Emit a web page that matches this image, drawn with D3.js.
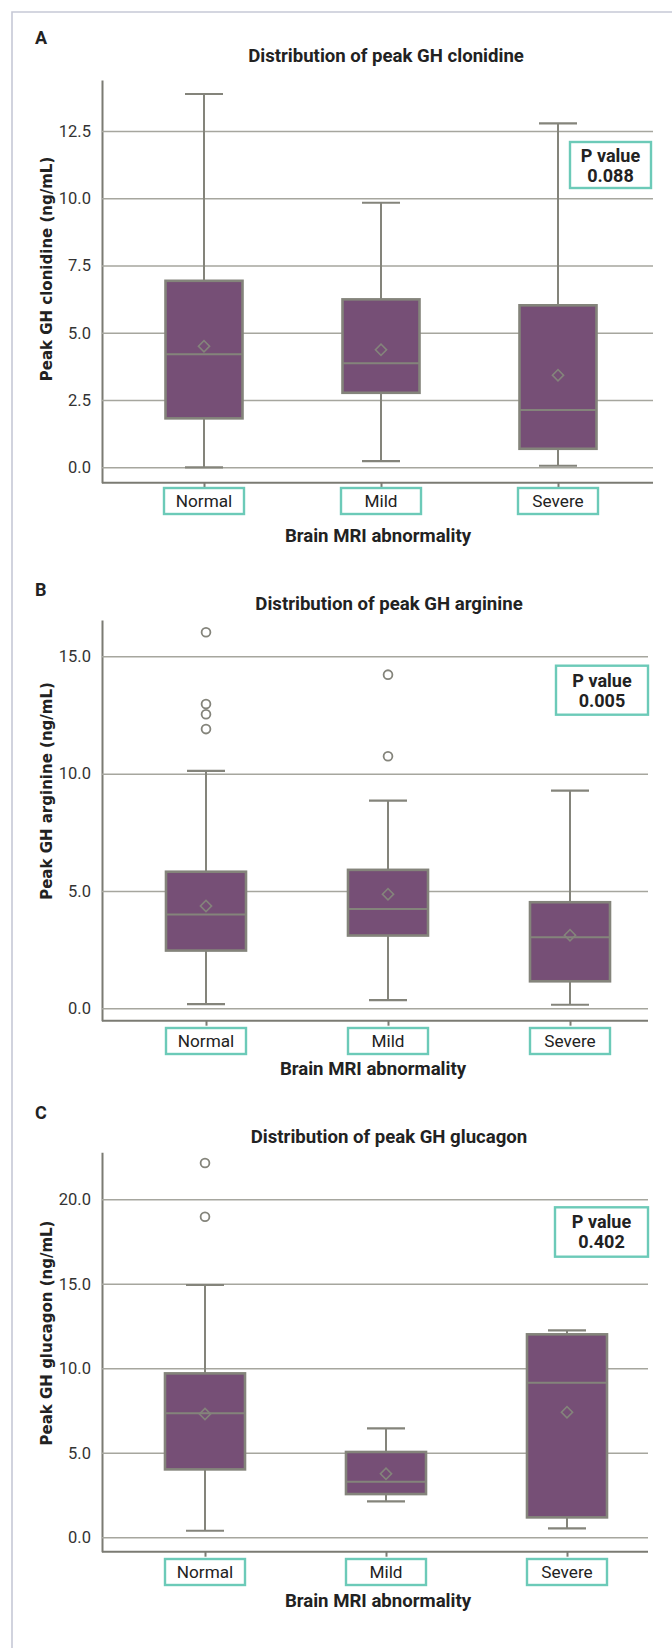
<!DOCTYPE html>
<html>
<head>
<meta charset="UTF-8">
<title>Peak GH by brain MRI abnormality</title>
<style>
  body { margin: 0; background: #fff; }
  svg { display: block; }
  .tick text { font-family: Roboto, sans-serif; font-size: 16.5px; fill: #333; }
  .panel-letter { font-family: Roboto, sans-serif; font-weight: 700; font-size: 18px; fill: #222; }
  .panel-title { font-family: Roboto, sans-serif; font-weight: 700; font-size: 18.6px; fill: #222; }
  .x-title { font-family: Roboto, sans-serif; font-weight: 700; font-size: 18.6px; fill: #222; }
  .y-title { font-family: "DejaVu Sans", sans-serif; font-weight: 700; font-size: 15px; fill: #222; }
  .cat-label { font-family: Roboto, sans-serif; font-size: 17.2px; fill: #222; }
  .p-text { font-family: Roboto, sans-serif; font-weight: 700; font-size: 18px; fill: #222; }
</style>
</head>
<body>
<svg id="chart"></svg>
<script src="https://d3js.org/d3.v7.min.js"></script>
<script>

// ---- data ----
const categories = ["Normal", "Mild", "Severe"];
const panelLetters = ["A", "B", "C"];
const panelTitles = [
  "Distribution of peak GH clonidine",
  "Distribution of peak GH arginine",
  "Distribution of peak GH glucagon"
];
const yTitles = [
  "Peak GH clonidine (ng/mL)",
  "Peak GH arginine (ng/mL)",
  "Peak GH glucagon (ng/mL)"
];
const xTitle = "Brain MRI abnormality";
const pValues = ["0.088", "0.005", "0.402"];
const yTicks = [
  [0, 2.5, 5, 7.5, 10, 12.5],
  [0, 5, 10, 15],
  [0, 5, 10, 15, 20]
];
const yLimits = [[-0.57, 14.39], [-0.53, 16.55], [-0.85, 22.78]];

// low whisker, q1, median, q3, high whisker, mean, outliers (Normal, Mild, Severe)
const clonidineStats = [
  { low: 0.0,  q1: 1.82, median: 4.2,  q3: 6.93, high: 13.87, mean: 4.5,  outliers: [] },
  { low: 0.23, q1: 2.77, median: 3.87, q3: 6.24, high: 9.83,  mean: 4.37, outliers: [] },
  { low: 0.06, q1: 0.69, median: 2.13, q3: 6.02, high: 12.78, mean: 3.42, outliers: [] }
];
const arginineStats = [
  { low: 0.18, q1: 2.46, median: 4.0,  q3: 5.82, high: 10.12, mean: 4.36, outliers: [11.9, 12.53, 12.97, 16.03] },
  { low: 0.35, q1: 3.1,  median: 4.23, q3: 5.9,  high: 8.85,  mean: 4.86, outliers: [10.74, 14.22] },
  { low: 0.15, q1: 1.15, median: 3.03, q3: 4.52, high: 9.28,  mean: 3.11, outliers: [] }
];
const glucagonStats = [
  { low: 0.39, q1: 4.02, median: 7.34, q3: 9.7,   high: 14.93, mean: 7.3,  outliers: [18.97, 22.15] },
  { low: 2.13, q1: 2.56, median: 3.29, q3: 5.05,  high: 6.45,  mean: 3.76, outliers: [] },
  { low: 0.53, q1: 1.18, median: 9.15, q3: 12.01, high: 12.25, mean: 7.4,  outliers: [] }
];
const panelStats = [clonidineStats, arginineStats, glucagonStats];

// ---- layout ----
const width = 672, height = 1648;
const axisX = 102;
const layout = [
  { top: 80,     bottom: 482.7,  letterY: 44,    titleY: 62,     titleX: 386, centers: [204, 558], boxW: 77, gridEnd: 653,
    pBox: [570, 142, 81, 46],   pY: [161.7, 182],     labelBoxY: 488,  xTitleY: 541.7, xTitleX: 378, yTitleY: 269 },
  { top: 620,    bottom: 1020.7, letterY: 595.7, titleY: 610,    titleX: 389, centers: [206, 570], boxW: 80, gridEnd: 648,
    pBox: [556, 665.7, 92, 49], pY: [686.7, 706.7],   labelBoxY: 1028, xTitleY: 1075,  xTitleX: 373, yTitleY: 791 },
  { top: 1152.3, bottom: 1551.7, letterY: 1119,  titleY: 1142.7, titleX: 389, centers: [205, 567], boxW: 80, gridEnd: 648,
    pBox: [555, 1207.3, 93, 49.4], pY: [1228.3, 1248.3], labelBoxY: 1559, xTitleY: 1606.7, xTitleX: 378, yTitleY: 1333 }
];

const purple = "#764f76", grey = "#84847b", gridGrey = "#a6a69e", axisGrey = "#7b7b73", teal = "#6ccab8";

let svg = d3.select("#chart").attr("width", width).attr("height", height);

// outer frame (left + top edge only visible)
svg.append("path")
  .attr("d", `M12,${height} V12 H${width}`)
  .attr("fill", "none")
  .attr("stroke", "#c6c9d6")
  .attr("stroke-width", 1.6);

panelStats.forEach((stats, i) => {
  const L = layout[i];
  const y = d3.scaleLinear().domain(yLimits[i]).range([L.bottom, L.top]);
  const x = d3.scalePoint().domain(categories).range(L.centers);
  const g = svg.append("g");

  g.append("text").attr("class", "panel-letter")
    .attr("x", 35).attr("y", L.letterY).text(panelLetters[i]);

  g.append("text").attr("class", "panel-title")
    .attr("x", L.titleX).attr("y", L.titleY)
    .attr("text-anchor", "middle").text(panelTitles[i]);

  // y axis with gridlines
  const yAxis = g.append("g")
    .attr("transform", `translate(${axisX},0)`)
    .call(d3.axisLeft(y).tickValues(yTicks[i]).tickFormat(d3.format(".1f"))
      .tickSizeInner(-(L.gridEnd - axisX)).tickSizeOuter(0).tickPadding(11));
  yAxis.selectAll(".tick line").attr("stroke", gridGrey).attr("stroke-width", 1.5);
  yAxis.select(".domain").attr("stroke", axisGrey).attr("stroke-width", 2);

  // x axis line + ticks
  g.append("line")
    .attr("x1", axisX).attr("x2", L.gridEnd)
    .attr("y1", L.bottom).attr("y2", L.bottom)
    .attr("stroke", axisGrey).attr("stroke-width", 2);
  const xAxis = g.append("g")
    .attr("transform", `translate(0,${L.bottom})`)
    .call(d3.axisBottom(x).tickSize(5).tickFormat(""));
  xAxis.select(".domain").remove();
  xAxis.selectAll(".tick line").attr("stroke", axisGrey).attr("stroke-width", 2);

  // boxes
  const box = g.selectAll("g.box").data(stats).join("g")
    .attr("class", "box")
    .attr("transform", (d, j) => `translate(${x(categories[j])},0)`);

  box.append("line").attr("y1", d => y(d.high)).attr("y2", d => y(d.q3))
    .attr("stroke", grey).attr("stroke-width", 2);
  box.append("line").attr("y1", d => y(d.q1)).attr("y2", d => y(d.low))
    .attr("stroke", grey).attr("stroke-width", 2);
  box.selectAll("line.cap").data(d => [d.low, d.high]).join("line")
    .attr("class", "cap")
    .attr("x1", -19).attr("x2", 19)
    .attr("y1", v => y(v)).attr("y2", v => y(v))
    .attr("stroke", grey).attr("stroke-width", 2.2);
  box.append("rect")
    .attr("x", -L.boxW / 2).attr("width", L.boxW)
    .attr("y", d => y(d.q3)).attr("height", d => y(d.q1) - y(d.q3))
    .attr("fill", purple).attr("stroke", grey).attr("stroke-width", 2.6);
  box.append("line")
    .attr("x1", -L.boxW / 2).attr("x2", L.boxW / 2)
    .attr("y1", d => y(d.median)).attr("y2", d => y(d.median))
    .attr("stroke", grey).attr("stroke-width", 2);
  box.append("path")
    .attr("d", d3.symbol(d3.symbolSquare, 62))
    .attr("transform", d => `translate(0,${y(d.mean)}) rotate(45)`)
    .attr("fill", "none").attr("stroke", grey).attr("stroke-width", 1.6);
  box.selectAll("circle").data(d => d.outliers).join("circle")
    .attr("cy", v => y(v)).attr("r", 4.4)
    .attr("fill", "none").attr("stroke", grey).attr("stroke-width", 1.8);

  // category labels in boxes
  const cat = g.selectAll("g.cat").data(categories).join("g")
    .attr("class", "cat")
    .attr("transform", d => `translate(${x(d)},${L.labelBoxY})`);
  cat.append("rect")
    .attr("x", -40).attr("width", 80).attr("height", 26)
    .attr("fill", "#fff").attr("stroke", teal).attr("stroke-width", 2.4);
  cat.append("text").attr("class", "cat-label")
    .attr("y", 19).attr("text-anchor", "middle").text(d => d);

  g.append("text").attr("class", "x-title")
    .attr("x", L.xTitleX).attr("y", L.xTitleY)
    .attr("text-anchor", "middle").text(xTitle);

  g.append("text").attr("class", "y-title")
    .attr("transform", `translate(52,${L.yTitleY}) rotate(-90)`)
    .attr("text-anchor", "middle").text(yTitles[i]);

  // P value box
  const [px, py, pw, ph] = L.pBox;
  g.append("rect")
    .attr("x", px).attr("y", py).attr("width", pw).attr("height", ph)
    .attr("fill", "#fff").attr("stroke", teal).attr("stroke-width", 2.4);
  g.append("text").attr("class", "p-text")
    .attr("x", px + pw / 2).attr("y", L.pY[0])
    .attr("text-anchor", "middle").text("P value");
  g.append("text").attr("class", "p-text")
    .attr("x", px + pw / 2).attr("y", L.pY[1])
    .attr("text-anchor", "middle").text(pValues[i]);
});

</script>
</body>
</html>
